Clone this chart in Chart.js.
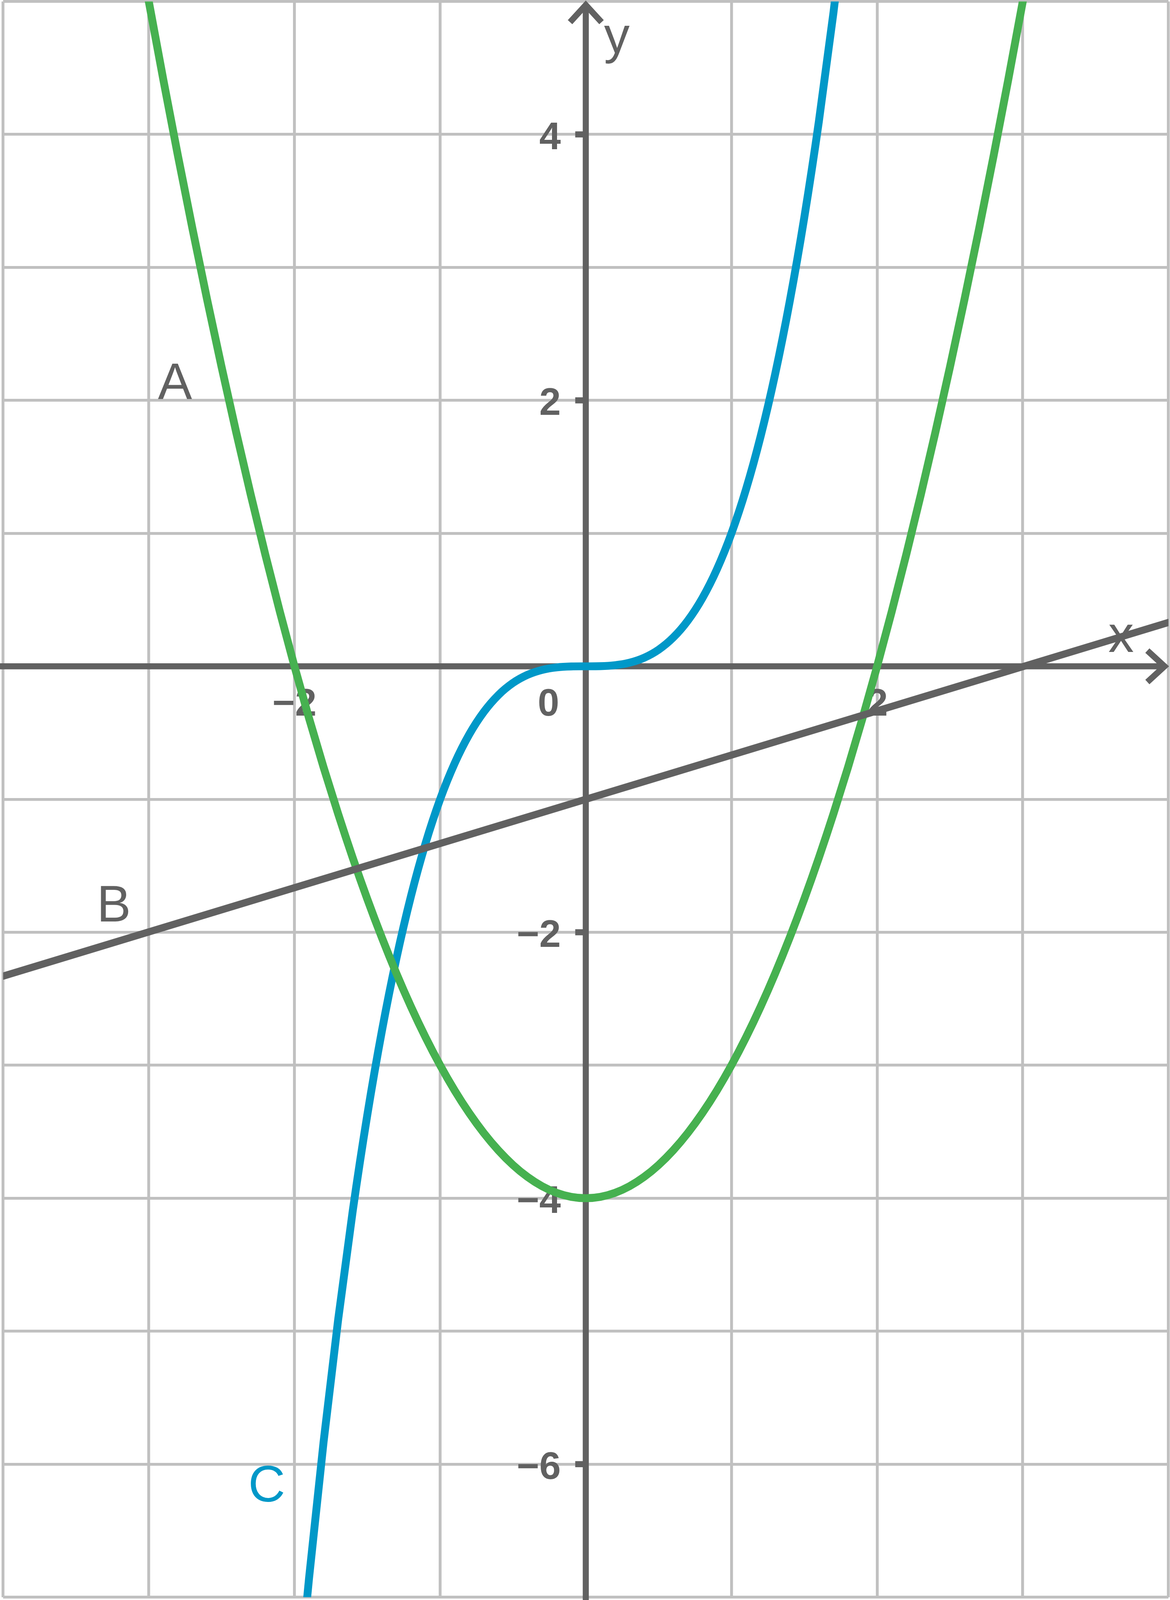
<!DOCTYPE html>
<html>
<head>
<meta charset="utf-8">
<script src="https://cdn.jsdelivr.net/npm/chart.js@4/dist/chart.umd.min.js"></script>
<style>
html,body{margin:0;padding:0;background:#fff;overflow:hidden;}
</style>
</head>
<body>
<canvas id="c"></canvas>
<script>
// ---- data ----
const aX = [-3.1,-3.0,-2.9,-2.8,-2.7,-2.6,-2.5,-2.4,-2.3,-2.2,-2.1,-2.0,-1.9,-1.8,-1.7,-1.6,-1.5,-1.4,-1.3,-1.2,-1.1,-1.0,-0.9,-0.8,-0.7,-0.6,-0.5,-0.4,-0.3,-0.2,-0.1,0,0.1,0.2,0.3,0.4,0.5,0.6,0.7,0.8,0.9,1.0,1.1,1.2,1.3,1.4,1.5,1.6,1.7,1.8,1.9,2.0,2.1,2.2,2.3,2.4,2.5,2.6,2.7,2.8,2.9,3.0,3.1];
const aY = [5.61,5.00,4.41,3.84,3.29,2.76,2.25,1.76,1.29,0.84,0.41,0.00,-0.39,-0.76,-1.11,-1.44,-1.75,-2.04,-2.31,-2.56,-2.79,-3.00,-3.19,-3.36,-3.51,-3.64,-3.75,-3.84,-3.91,-3.96,-3.99,-4.00,-3.99,-3.96,-3.91,-3.84,-3.75,-3.64,-3.51,-3.36,-3.19,-3.00,-2.79,-2.56,-2.31,-2.04,-1.75,-1.44,-1.11,-0.76,-0.39,0.00,0.41,0.84,1.29,1.76,2.25,2.76,3.29,3.84,4.41,5.00,5.61];
const bX = [-4, 4];
const bY = [-2.33, 0.33];
const cX = [-2.0,-1.9,-1.8,-1.7,-1.6,-1.5,-1.4,-1.3,-1.2,-1.1,-1.0,-0.9,-0.8,-0.7,-0.6,-0.5,-0.4,-0.3,-0.2,-0.1,0,0.1,0.2,0.3,0.4,0.5,0.6,0.7,0.8,0.9,1.0,1.1,1.2,1.3,1.4,1.5,1.6,1.7,1.8];
const cY = [-8.000,-6.859,-5.832,-4.913,-4.096,-3.375,-2.744,-2.197,-1.728,-1.331,-1.000,-0.729,-0.512,-0.343,-0.216,-0.125,-0.064,-0.027,-0.008,-0.001,0.000,0.001,0.008,0.027,0.064,0.125,0.216,0.343,0.512,0.729,1.000,1.331,1.728,2.197,2.744,3.375,4.096,4.913,5.832];
const xTickValues = [-2, 0, 2];
const xTickLabels = ['\u22122', '0', '2'];
const yTickValues = [4, 2, -2, -4, -6];
const yTickLabels = ['4', '2', '\u22122', '\u22124', '\u22126'];
const curveLabels = ['A', 'B', 'C'];
const curveLabelX = [-2.82, -3.24, -2.19];
const curveLabelY = [2.01, -1.92, -6.28];
const axisNames = ['x', 'y'];
const axisNameX = [3.675, 0.213];
const axisNameY = [0.107, 4.61];

const GREEN = '#46b150';
const BLUE = '#0098c8';
const DARK = '#616161';
const GRID = '#c0c0c0';

const W = window.innerWidth || 2995;
const H = window.innerHeight || 4473;
const sx = W / 2995, sy = H / 4473, s = Math.min(sx, sy);
const cv = document.getElementById('c');
cv.width = W; cv.height = H;
cv.style.width = W + 'px'; cv.style.height = H + 'px';
cv.style.display = 'block';

function pts(xs, ys){ return xs.map((x,i)=>({x:x, y:ys[i]})); }

const axesPlugin = {
  id: 'axesPlugin',
  beforeDraw(chart){
    const ctx = chart.ctx;
    ctx.save();
    ctx.fillStyle = '#fff';
    ctx.fillRect(0,0,chart.width,chart.height);
    ctx.restore();
  },
  beforeDatasetsDraw(chart){
    const ctx = chart.ctx, xs = chart.scales.x, ys = chart.scales.y, ca = chart.chartArea;
    const x0 = xs.getPixelForValue(0), y0 = ys.getPixelForValue(0);
    ctx.save();
    ctx.strokeStyle = DARK;
    ctx.lineWidth = 17 * s;
    ctx.lineCap = 'butt';
    ctx.lineJoin = 'miter';
    // x axis
    const xApex = ca.right - 10 * sx;
    ctx.beginPath(); ctx.moveTo(0, y0); ctx.lineTo(xApex - 4 * sx, y0); ctx.stroke();
    ctx.beginPath(); ctx.moveTo(xApex - 48 * s, y0 - 44 * s); ctx.lineTo(xApex, y0); ctx.lineTo(xApex - 48 * s, y0 + 44 * s); ctx.stroke();
    // y axis
    const yApex = ca.top + 10 * sy;
    ctx.beginPath(); ctx.moveTo(x0, chart.height); ctx.lineTo(x0, yApex + 4 * sy); ctx.stroke();
    ctx.beginPath(); ctx.moveTo(x0 - 44 * s, yApex + 48 * s); ctx.lineTo(x0, yApex); ctx.lineTo(x0 + 44 * s, yApex + 48 * s); ctx.stroke();
    // y tick marks
    yTickValues.forEach(v=>{
      const p = ys.getPixelForValue(v);
      ctx.beginPath(); ctx.moveTo(x0 - 27 * sx, p); ctx.lineTo(x0, p); ctx.stroke();
    });
    // tick labels
    ctx.fillStyle = DARK;
    ctx.font = 'bold ' + Math.round(108 * s) + 'px "Liberation Sans", Arial, sans-serif';
    ctx.textBaseline = 'alphabetic';
    ctx.textAlign = 'right';
    yTickValues.forEach((v,i)=>{
      const p = ys.getPixelForValue(v);
      ctx.fillText(yTickLabels[i], x0 - 64 * sx, p + 41 * s);
    });
    xTickValues.forEach((v,i)=>{
      const p = xs.getPixelForValue(v);
      if (v === 0) { ctx.textAlign = 'right'; ctx.fillText(xTickLabels[i], x0 - 68 * sx, y0 + 138 * sy); }
      else { ctx.textAlign = 'center'; ctx.fillText(xTickLabels[i], p, y0 + 138 * sy); }
    });
    // curve & axis names
    ctx.font = Math.round(143 * s) + 'px "Liberation Sans", Arial, sans-serif';
    ctx.textAlign = 'center';
    curveLabels.forEach((t,i)=>{
      ctx.fillStyle = (t === 'C') ? BLUE : DARK;
      ctx.fillText(t, xs.getPixelForValue(curveLabelX[i]), ys.getPixelForValue(curveLabelY[i]));
    });
    ctx.fillStyle = DARK;
    axisNames.forEach((t,i)=>{
      ctx.fillText(t, xs.getPixelForValue(axisNameX[i]), ys.getPixelForValue(axisNameY[i]));
    });
    ctx.restore();
  }
};

new Chart(cv, {
  type: 'line',
  data: {
    datasets: [
      { label: 'B', data: pts(bX, bY), borderColor: DARK, borderWidth: 20 * s, borderCapStyle: 'round', pointRadius: 0, tension: 0 },
      { label: 'A', data: pts(aX, aY), borderColor: GREEN, borderWidth: 22 * s, pointRadius: 0, cubicInterpolationMode: 'monotone' },
      { label: 'C', data: pts(cX, cY), borderColor: BLUE, borderWidth: 22 * s, pointRadius: 0, cubicInterpolationMode: 'monotone' }
    ]
  },
  options: {
    responsive: false,
    maintainAspectRatio: false,
    devicePixelRatio: 1,
    animation: false,
    events: [],
    layout: { padding: { left: 8 * sx, right: 4 * sx, top: 4 * sy, bottom: 8 * sy } },
    plugins: { legend: { display: false }, tooltip: { enabled: false } },
    scales: {
      x: {
        type: 'linear', min: -4, max: 4,
        ticks: { display: false, stepSize: 1 },
        grid: { color: GRID, lineWidth: 8 * s, drawTicks: false },
        border: { display: false }
      },
      y: {
        type: 'linear', min: -7, max: 5,
        ticks: { display: false, stepSize: 1 },
        grid: { color: GRID, lineWidth: 8 * s, drawTicks: false },
        border: { display: false }
      }
    }
  },
  plugins: [axesPlugin]
});
</script>
</body>
</html>
